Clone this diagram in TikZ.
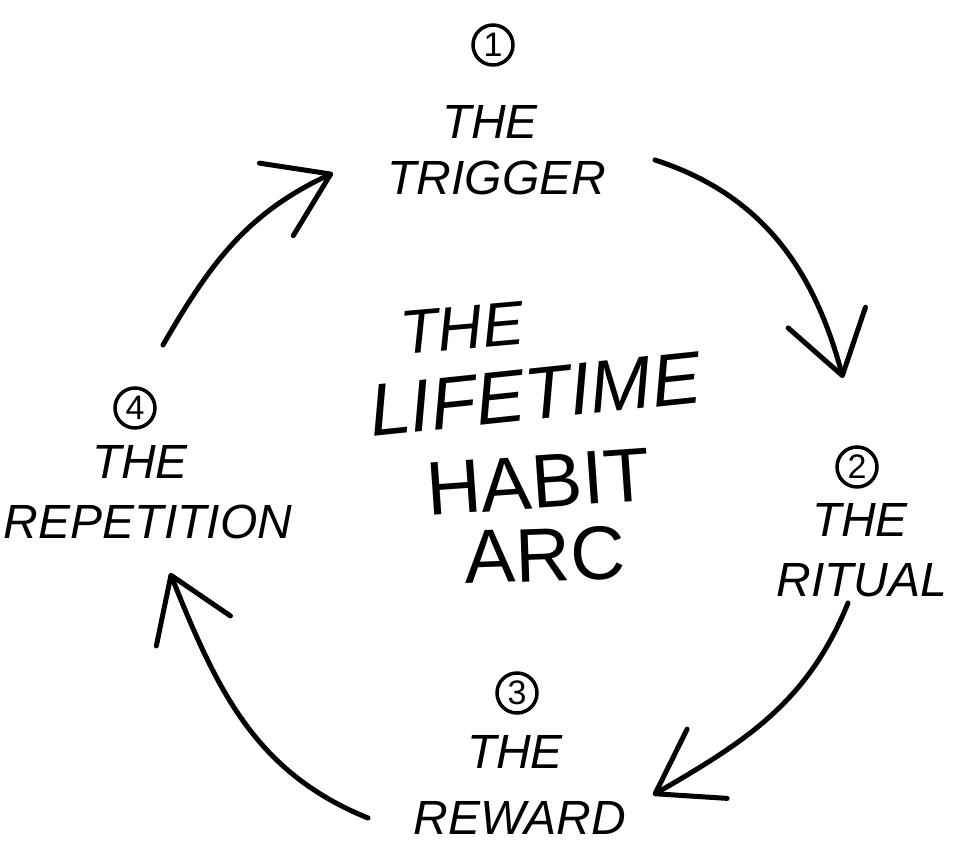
\documentclass[tikz,border=0pt]{standalone}
\usepackage{fontspec}
\setmainfont{Liberation Sans}
\usetikzlibrary{arrows.meta}
\tikzset{
  numcirc/.style={draw, circle, line width=3.5pt, minimum size=40pt, inner sep=0pt, font=\fontsize{34}{34}\selectfont},
  label/.style={inner sep=0pt, font=\fontsize{48}{48}\selectfont\itshape},
  bigtext/.style={inner sep=0pt, font=\fontsize{76}{76}\selectfont},
  loop arrow/.style={line width=5pt, line cap=round, -{Straight Barb[length=60pt, width=80pt, round]}}
}
\begin{document}
\begin{tikzpicture}[x=1pt,y=1pt]
\useasboundingbox (0,0) rectangle (959,864);
% numbers
\node [numcirc] (c1) at (493,819) {1};
\node [numcirc] (c2) at (857,397) {2};
\node [numcirc] (c3) at (517,171) {3};
\node [numcirc] (c4) at (135,456) {4};
%Text
\node [label] (the1) at (490,742) {THE};
\node [label] (trigger) at (497,686) {TRIGGER};
\node [label] (the2) at (860,344) {THE};
\node [label] (ritual) at (862,284) {RITUAL};
\node [label] (the3) at (515,112) {THE};
\node [label] (reward) at (520,46) {REWARD};
\node [label] (the4) at (140,402) {THE};
\node [label] (repetition) at (148,342) {REPETITION};
\node [bigtext, font=\fontsize{62}{62}\selectfont\itshape, rotate=5] (thec) at (462,536) {THE};
\node [bigtext, font=\fontsize{74}{74}\selectfont\itshape, rotate=6] (lifetime) at (535,470) {LIFETIME};
\node [bigtext, rotate=4] (habit) at (538,382) {HABIT};
\node [bigtext, rotate=2] (arc) at (545,309) {ARC};
% arrows
\coordinate (a1s) at (655,704);
\coordinate (a1e) at (843,486);
\coordinate (a2s) at (848,261);
\coordinate (a2e) at (653,69);
\coordinate (a3s) at (368,46);
\coordinate (a3e) at (170,291);
\coordinate (a4s) at (163,519);
\coordinate (a4e) at (333,691);
\draw [loop arrow] (a1s) to[out=-18, in=105] (a1e);
\draw [loop arrow] (a2s) to[out=-112, in=30] (a2e);
\draw [loop arrow] (a3s) to[out=158, in=-68] (a3e);
\draw [loop arrow] (a4s) to[out=60, in=205] (a4e);
\end{tikzpicture}
\end{document}
